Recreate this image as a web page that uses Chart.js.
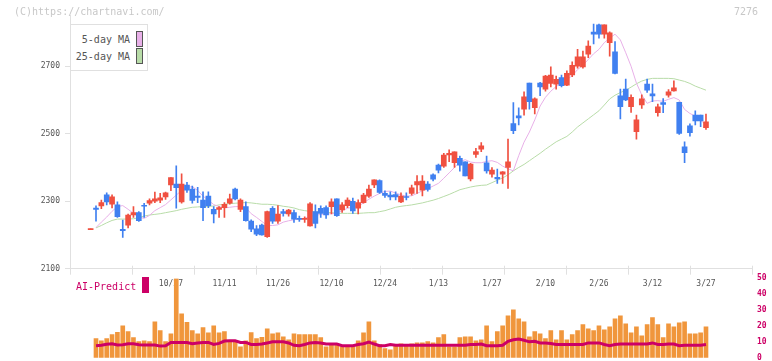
<!DOCTYPE html>
<html>
<head>
<meta charset="utf-8">
<script src="https://cdn.jsdelivr.net/npm/chart.js@4.4.1/dist/chart.umd.min.js"></script>
<style>
  body { margin: 0; background: #fff; }
  #wrap { position: relative; width: 772px; height: 361px; overflow: hidden; font-family: "DejaVu Sans Mono", monospace; }
  canvas { position: absolute; left: 0; top: 0; }
  #volChart { pointer-events: none; }
  .txt { position: absolute; white-space: nowrap; font-size: 10px; line-height: 10px; }
  #legend { position: absolute; left: 70px; top: 24px; width: 76px; height: 45px; border: 1px solid #e0e0e0; background: #fff; }
  .sw { position: absolute; width: 5px; height: 14px; border: 1px solid #555; }
</style>
</head>
<body>
<div id="wrap">
  <canvas id="priceChart" width="772" height="361"></canvas>
  <canvas id="volChart" width="772" height="361"></canvas>
  <div class="txt" style="left:14px;top:7px;color:#c8c8c8">(C)https://chartnavi.com/</div>
  <div class="txt" style="left:734px;top:7px;color:#c8c8c8">7276</div>
  <div id="legend">
    <div class="txt" style="right:17px;top:10px;color:#555">5-day MA</div>
    <div class="txt" style="right:17px;top:27px;color:#555">25-day MA</div>
    <div class="sw" style="left:65px;top:6px;background:#e8b0e8"></div>
    <div class="sw" style="left:65px;top:23px;background:#b8dca8"></div>
  </div>
  <div class="txt" style="left:76px;top:282px;color:#cc0066">AI-Predict</div>
  <div style="position:absolute;left:142px;top:277px;width:7px;height:16px;background:#cc0066"></div>
</div>
<script>
// date labels (trading-day index -> label)
const labelIdx = [15, 25, 35, 45, 55, 65, 75, 85, 95, 105, 115];
const labelText = ["10/27", "11/11", "11/26", "12/10", "12/24", "1/13", "1/27", "2/10", "2/26", "3/12", "3/27"];
const yTicks = [2100, 2300, 2500, 2700];
const volTicks = [0, 10, 20, 30, 40, 50];

const open = [
  2216,2280,2286,2319,2291,2289,2217,2229,2259,2266,
  2287,2294,2300,2303,2313,2348,2351,2298,2348,2336,
  2315,2303,2315,2276,2276,2281,2294,2336,2276,2284,
  2241,2218,2229,2195,2279,2241,2269,2262,2266,2249,
  2246,2227,2269,2279,2281,2284,2307,2274,2287,2300,
  2279,2296,2315,2348,2361,2323,2318,2320,2298,2313,
  2323,2348,2333,2351,2378,2407,2404,2437,2414,2427,
  2417,2366,2439,2454,2414,2380,2371,2380,2400,2530,
  2553,2573,2650,2577,2650,2632,2649,2647,2666,2644,
  2674,2700,2698,2736,2801,2823,2795,2770,2743,2612,
  2632,2580,2506,2585,2647,2618,2562,2592,2614,2627,
  2593,2461,2523,2555,2555,2518
];
const high = [
  2218,2286,2303,2325,2319,2298,2244,2262,2284,2269,
  2294,2307,2327,2323,2327,2370,2405,2381,2356,2345,
  2341,2328,2328,2284,2284,2296,2321,2339,2307,2298,
  2245,2228,2232,2271,2284,2287,2276,2276,2274,2256,
  2254,2296,2289,2286,2286,2307,2307,2296,2310,2309,
  2304,2323,2348,2363,2363,2331,2328,2328,2325,2325,
  2348,2376,2376,2358,2381,2410,2442,2452,2446,2434,
  2417,2412,2457,2474,2434,2400,2395,2388,2484,2592,
  2577,2624,2650,2606,2652,2673,2698,2671,2674,2686,
  2713,2750,2745,2775,2825,2825,2823,2802,2773,2632,
  2662,2615,2555,2615,2662,2647,2588,2604,2631,2657,
  2594,2476,2529,2568,2555,2558
];
const low = [
  2216,2241,2278,2289,2280,2252,2193,2221,2252,2240,
  2252,2289,2296,2296,2305,2331,2279,2294,2326,2294,
  2296,2242,2281,2236,2252,2252,2291,2304,2269,2241,
  2210,2198,2199,2193,2234,2234,2256,2256,2237,2240,
  2237,2226,2221,2252,2249,2262,2255,2267,2281,2264,
  2262,2294,2311,2340,2323,2311,2304,2304,2296,2304,
  2318,2323,2316,2330,2360,2384,2400,2417,2400,2389,
  2375,2360,2430,2447,2383,2371,2353,2353,2338,2500,
  2526,2555,2573,2559,2613,2626,2639,2632,2639,2642,
  2669,2694,2694,2725,2766,2783,2783,2730,2677,2544,
  2598,2563,2484,2575,2622,2595,2552,2562,2608,2626,
  2498,2414,2493,2526,2521,2513
];
const close = [
  2218,2276,2296,2298,2313,2254,2213,2259,2266,2242,
  2285,2302,2307,2310,2325,2370,2340,2351,2333,2302,
  2311,2281,2287,2262,2281,2291,2307,2307,2303,2242,
  2217,2202,2200,2269,2241,2262,2264,2274,2247,2246,
  2249,2292,2234,2264,2259,2298,2257,2289,2303,2271,
  2296,2318,2336,2363,2326,2317,2313,2313,2315,2311,
  2340,2358,2360,2335,2365,2392,2437,2442,2446,2407,
  2375,2410,2447,2464,2390,2392,2366,2387,2417,2509,
  2547,2609,2595,2603,2639,2671,2674,2661,2642,2679,
  2703,2728,2728,2760,2795,2795,2823,2799,2679,2580,
  2600,2608,2541,2603,2629,2612,2580,2587,2624,2636,
  2501,2444,2503,2538,2538,2535
];
const ma5 = [
  null,2222,2238,2253,2270,2284,2287,2276,2264,2253,
  2249,2258,2272,2281,2290,2304,2318,2332,2341,2343,
  2332,2315,2303,2290,2284,2280,2282,2284,2284,2281,
  2263,2252,2240,2228,2228,2230,2238,2242,2245,2247,
  2249,2255,2258,2261,2262,2263,2264,2272,2279,2282,
  2285,2295,2306,2315,2323,2329,2330,2324,2319,2315,
  2316,2323,2331,2337,2345,2353,2368,2384,2400,2417,
  2423,2416,2414,2414,2418,2420,2415,2404,2396,2390,
  2435,2475,2505,2541,2582,2608,2626,2640,2649,2660,
  2672,2690,2703,2720,2737,2750,2770,2783,2795,2778,
  2740,2700,2650,2615,2590,2597,2598,2596,2602,2607,
  2600,2572,2560,2552,2540,2526
];
const ma25 = [
  null,2221,2228,2236,2243,2247,2247,2247,2248,2251,
  2256,2259,2261,2263,2266,2269,2272,2276,2279,2282,
  2283,2284,2284,2286,2289,2291,2293,2294,2295,2296,
  2295,2293,2291,2291,2290,2288,2285,2283,2280,2275,
  2272,2270,2268,2267,2267,2266,2264,2264,2264,2264,
  2264,2265,2266,2266,2269,2272,2277,2282,2285,2287,
  2289,2292,2295,2299,2303,2308,2314,2320,2327,2334,
  2338,2342,2345,2347,2348,2355,2362,2369,2378,2390,
  2400,2409,2420,2431,2442,2454,2465,2476,2484,2492,
  2505,2520,2532,2544,2556,2568,2585,2603,2614,2622,
  2629,2638,2648,2656,2661,2664,2664,2664,2664,2663,
  2659,2655,2649,2641,2635,2629
];
const volume = [
  null,12.0,10.7,12.0,14.5,15.9,20.1,16.4,12.6,10.1,
  10.7,10.1,22.6,17.0,10.1,15.1,49.7,27.7,22.2,17.0,
  15.1,18.9,15.7,20.1,15.7,16.4,10.7,10.1,6.9,10.7,
  15.8,12.0,12.8,18.2,15.1,15.7,13.2,11.3,15.1,14.5,
  14.5,14.5,14.5,12.6,6.9,8.2,8.2,6.9,6.9,6.9,
  10.7,15.7,22.6,10.7,8.2,5.7,5.0,7.5,8.8,8.2,
  8.8,9.4,9.4,10.1,9.4,12.6,14.5,6.9,6.9,12.6,
  13.2,13.2,10.7,11.3,20.1,10.1,16.4,20.1,26.4,30.2,
  24.5,22.6,13.2,16.4,15.1,12.0,17.0,11.3,17.0,11.3,
  14.5,17.0,20.8,18.2,17.0,20.1,17.6,19.5,24.5,26.4,
  21.4,15.7,19.5,13.8,20.8,25.2,20.8,12.6,21.4,19.5,
  22.0,22.6,15.1,15.1,15.7,19.5
];
const aiPredict = [
  null,7.5,7.8,8.5,8.8,8.0,8.2,8.8,8.8,8.2,
  8.0,8.0,8.0,7.3,7.5,9.6,9.6,9.6,9.6,8.8,
  9.2,9.6,9.6,8.4,9.0,10.5,10.7,10.7,9.6,9.6,
  8.3,8.3,8.6,9.3,10.0,10.0,10.0,9.3,7.8,7.6,
  8.3,9.3,9.5,9.3,8.6,8.6,8.6,7.6,7.6,7.6,
  8.3,8.8,9.9,8.6,7.6,7.6,8.3,7.8,7.8,7.8,
  7.8,7.8,7.8,7.8,7.8,7.8,7.8,7.8,7.8,7.8,
  7.8,8.3,8.3,8.6,7.6,7.6,7.6,7.8,10.3,11.3,
  11.7,11.0,10.0,10.3,9.3,9.3,8.9,8.3,8.3,8.3,
  8.3,8.3,8.3,9.3,9.3,9.3,8.3,7.6,8.3,8.6,
  8.6,8.6,8.6,8.6,8.6,9.3,8.3,8.3,8.6,8.6,
  7.6,7.8,7.8,7.8,7.8,8.3
];

const RED = "#f05040";
const BLUE = "#4080f0";
const X_MIN = -3.86, X_MAX = 123.6;
const MONO = "'DejaVu Sans Mono', monospace";

const idx = close.map((_, i) => i);
const candleColor = ctx => close[ctx.dataIndex] >= open[ctx.dataIndex] ? RED : BLUE;

// 11 equal tick marks along the bottom axis
const axisTicks = {
  id: "axisTicks",
  afterDraw(chart) {
    const { ctx, chartArea: a } = chart;
    ctx.save();
    ctx.strokeStyle = "#e0e0e0";
    ctx.lineWidth = 1;
    for (let k = 0; k <= 11; k++) {
      const x = Math.round(a.left + k * (a.right - a.left) / 11) + 0.5;
      ctx.beginPath();
      ctx.moveTo(x, a.bottom - 3);
      ctx.lineTo(x, a.bottom + 6);
      ctx.stroke();
    }
    ctx.restore();
  }
};

new Chart(document.getElementById("priceChart"), {
  type: "bar",
  data: {
    datasets: [
      {
        data: idx.map(i => ({ x: i, y: [open[i], close[i]] })),
        backgroundColor: candleColor,
        barThickness: 5,
        minBarLength: 1,
        grouped: false,
        order: 0
      },
      {
        data: idx.map(i => ({ x: i, y: [low[i], high[i]] })),
        backgroundColor: candleColor,
        barThickness: 1,
        grouped: false,
        order: 1
      },
      {
        type: "line",
        data: idx.map(i => ({ x: i, y: ma5[i] })),
        borderColor: "#e8b0e8",
        borderWidth: 1,
        pointRadius: 0,
        order: 2
      },
      {
        type: "line",
        data: idx.map(i => ({ x: i, y: ma25[i] })),
        borderColor: "#b8dca8",
        borderWidth: 1,
        pointRadius: 0,
        order: 3
      }
    ]
  },
  options: {
    responsive: false,
    animation: false,
    devicePixelRatio: 1,
    layout: { padding: { left: 0, right: 20, top: 15.6, bottom: 0 } },
    plugins: { legend: { display: false }, tooltip: { enabled: false } },
    scales: {
      x: {
        type: "linear",
        min: X_MIN,
        max: X_MAX,
        offset: false,
        afterBuildTicks: s => { s.ticks = labelIdx.map(v => ({ value: v })); },
        afterFit: s => { s.height = 92.3; },
        grid: { display: false, drawTicks: false },
        border: { display: true, color: "#e0e0e0" },
        ticks: {
          autoSkip: false,
          maxRotation: 0,
          padding: 10,
          color: "#555",
          font: { family: MONO, size: 8 },
          callback: (v, i) => labelText[i]
        }
      },
      y: {
        min: 2100,
        max: 2850,
        afterBuildTicks: s => { s.ticks = yTicks.map(v => ({ value: v })); },
        afterFit: s => { s.width = 70; },
        grid: { drawOnChartArea: false, tickLength: 5, color: "#e0e0e0" },
        border: { display: true, color: "#e0e0e0" },
        ticks: {
          padding: 5,
          color: "#555",
          font: { family: MONO, size: 8 },
          callback: v => String(v)
        }
      }
    }
  },
  plugins: [axisTicks]
});

new Chart(document.getElementById("volChart"), {
  type: "bar",
  data: {
    datasets: [
      {
        type: "line",
        data: idx.map(i => ({ x: i, y: aiPredict[i] })),
        borderColor: "#cc0066",
        borderWidth: 3,
        pointRadius: 0,
        order: 0
      },
      {
        data: idx.map(i => ({ x: i, y: volume[i] })),
        backgroundColor: "#f0963c",
        barThickness: 4,
        grouped: false,
        order: 1
      }
    ]
  },
  options: {
    responsive: false,
    animation: false,
    devicePixelRatio: 1,
    layout: { padding: { left: 70, right: 0, top: 278.3, bottom: 3.3 } },
    plugins: { legend: { display: false }, tooltip: { enabled: false } },
    scales: {
      x: { type: "linear", min: X_MIN, max: X_MAX, offset: false, display: false },
      y: {
        position: "right",
        min: 0,
        max: 50,
        afterBuildTicks: s => { s.ticks = volTicks.map(v => ({ value: v })); },
        afterFit: s => { s.width = 20; s.paddingTop = 0; s.paddingBottom = 0; },
        grid: { display: false, drawTicks: true, tickLength: 5 },
        border: { display: false },
        ticks: {
          padding: 0,
          color: "#cc0066",
          font: { family: MONO, size: 8, weight: "bold" }
        }
      }
    }
  }
});
</script>
</body>
</html>
